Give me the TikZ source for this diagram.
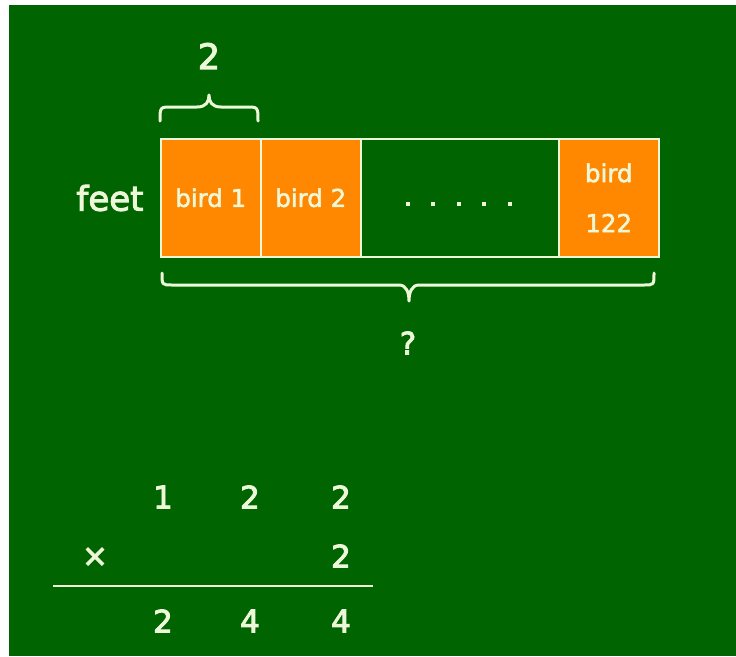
\documentclass[tikz,border=0pt]{standalone}
\usepackage{fontspec}
\setmainfont{DejaVu Sans}
\newfontfamily\heavyfont{DejaVu Sans}[FakeBold=3]
\newfontfamily\labelfont{DejaVu Sans}[FakeBold=2]
\definecolor{bg}{RGB}{0,100,0}
\definecolor{org}{RGB}{255,136,0}
\definecolor{ink}{RGB}{236,248,216}
\begin{document}
\begin{tikzpicture}[x=1pt,y=-1pt,
  cell/.style={draw=ink, line width=1.5pt, fill=org, minimum height=118pt,
    inner sep=0pt, anchor=north west, text=ink, align=center,
    font=\labelfont\fontsize{24.5}{50}\selectfont},
  gap/.style={cell, fill=bg},
  big/.style={text=ink, inner sep=0pt, font=\heavyfont\fontsize{34}{40}\selectfont},
  num/.style={text=ink, inner sep=0pt, font=\heavyfont\fontsize{31}{36}\selectfont},
  brace/.style={draw=ink, line width=3pt, line cap=round, line join=round},
  dotsq/.style={fill=ink, minimum size=4.5pt, inner sep=0pt}]
\useasboundingbox (0,0) rectangle (736,656);
\fill[white] (0,0) rectangle (736,656);
\fill[bg] (9,5) rectangle (736,656);
% boxes
\node[cell, minimum width=100pt] (b1) at (160,138) {bird 1};
\node[cell, minimum width=100pt] (b2) at (260,138) {bird 2};
\node[gap, minimum width=198pt] (bd) at (360,138) {};
\node[cell, minimum width=100pt] (bn) at (558,138) {bird\\122};
\foreach \i/\x in {1/408,2/433,3/459,4/484,5/510}
  \node[dotsq] (d\i) at (\x,204) {};
\node[big] (feet) at (110,198) {feet};
% top brace
\node[big, font=\heavyfont\fontsize{35}{40}\selectfont] (two) at (209,56) {2};
\draw[brace] (160,121) .. controls (160,107) .. (172,107) -- (197,107)
  .. controls (206,107) and (209,102) .. (209,95)
  .. controls (209,102) and (212,107) .. (221,107) -- (246,107)
  .. controls (258,107) .. (258,121);
% bottom brace
\draw[brace] (162,273) .. controls (162,285) .. (172,285) -- (399,285)
  .. controls (406,285) and (409,292) .. (409,301)
  .. controls (409,292) and (412,285) .. (419,285) -- (644,285)
  .. controls (654,285) .. (654,273);
\node[big, font=\heavyfont\fontsize{31}{36}\selectfont] (q) at (408,343) {?};
% multiplication
\node[num] (a1) at (163,497) {1};
\node[num] (a2) at (250,497) {2};
\node[num] (a3) at (341,497) {2};
\node[num] (times) at (95,557) {×};
\node[num] (m3) at (341,556) {2};
\draw[ink, line width=2pt] (53,586) -- (373,586);
\node[num] (r1) at (163,621) {2};
\node[num] (r2) at (250,621) {4};
\node[num] (r3) at (341,621) {4};
\end{tikzpicture}
\end{document}
